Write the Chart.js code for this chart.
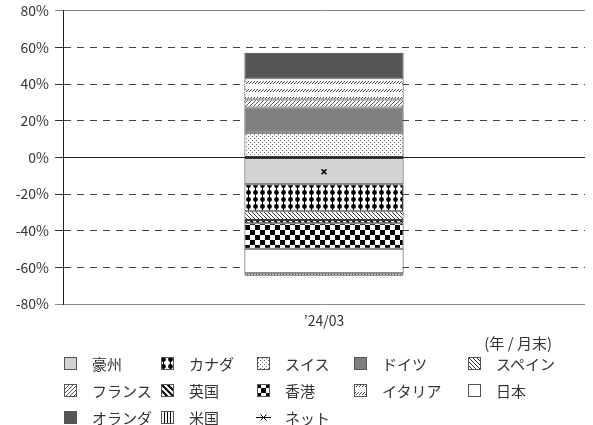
<!DOCTYPE html>
<html>
<head>
<meta charset="utf-8">
<script src="https://cdn.jsdelivr.net/npm/chart.js@4/dist/chart.umd.min.js"></script>
<style>
  body { margin: 0; background: #fff; }
  #wrap { position: relative; width: 593px; height: 425px; font-family: "Noto Sans CJK JP", "Noto Sans", sans-serif; color: #333; }
  #chart1 { position: absolute; left: 0; top: 0; }
  .item { position: absolute; display: flex; align-items: center; font-size: 15px; white-space: nowrap; height: 20px; }
  .item canvas { margin-right: 14px; }
  #unit { position: absolute; right: 41px; top: 332px; font-size: 15px; }
</style>
</head>
<body>
<div id="wrap">
  <canvas id="chart1" width="593" height="425"></canvas>
  <div id="unit">(年 / 月末)</div>
  <div id="legend"></div>
</div>
<script>
// 国別の寄与（%）、プラスとマイナスは別々に積み上がる
const dates = ['\u201924/03'];
const countries = ['豪州', 'カナダ', 'スイス', 'ドイツ', 'スペイン', 'フランス', '英国', '香港', 'イタリア', '日本', 'オランダ', '米国'];
const values = [-14.6, -14.8, 13.5, 13.7, -4.7, 4.4, -1.8, -14.0, 11.7, -13.3, 13.8, -1.4];
const netLabel = 'ネット';
const netValues = [-7.8];

// 塗りパターン用の小さなタイル
function tile(w, h, draw) {
  const c = document.createElement('canvas');
  c.width = w; c.height = h;
  const g = c.getContext('2d');
  g.fillStyle = '#fff';
  g.fillRect(0, 0, w, h);
  draw(g);
  return c;
}

const tiles = {
  solidLight: '#d3d3d3',
  canada: tile(7, 7, g => {
    g.fillStyle = '#000';
    g.beginPath();
    g.arc(3.5, 3.5, 2.4, 0, Math.PI * 2);
    g.fill();
    g.fillRect(3, 0, 1, 7);
  }),
  dots: tile(4, 4, g => {
    g.fillStyle = '#666';
    g.fillRect(0, 0, 1, 1);
    g.fillRect(2, 2, 1, 1);
  }),
  solidMid: '#808080',
  back: tile(4, 4, g => {
    g.strokeStyle = '#333'; g.lineWidth = 1;
    g.beginPath();
    g.moveTo(-1, -1); g.lineTo(5, 5);
    g.moveTo(-1, 3); g.lineTo(1, 5);
    g.moveTo(3, -1); g.lineTo(5, 1);
    g.stroke();
  }),
  fwd: tile(4, 4, g => {
    g.strokeStyle = '#555'; g.lineWidth = 1;
    g.beginPath();
    g.moveTo(-1, 5); g.lineTo(5, -1);
    g.moveTo(-1, 1); g.lineTo(1, -1);
    g.moveTo(3, 5); g.lineTo(5, 3);
    g.stroke();
  }),
  thickBack: tile(6, 6, g => {
    g.strokeStyle = '#000'; g.lineWidth = 2;
    g.beginPath();
    g.moveTo(-1, -1); g.lineTo(7, 7);
    g.moveTo(-1, 5); g.lineTo(1, 7);
    g.moveTo(5, -1); g.lineTo(7, 1);
    g.stroke();
  }),
  checker: tile(10, 10, g => {
    g.fillStyle = '#000';
    g.fillRect(0, 0, 5, 5);
    g.fillRect(5, 5, 5, 5);
  }),
  dashes: tile(3, 8, g => {
    g.strokeStyle = '#444'; g.lineWidth = 1;
    g.beginPath();
    g.moveTo(0, 4); g.lineTo(3, 1);
    g.stroke();
  }),
  white: '#ffffff',
  solidDark: '#555555',
  vert: tile(3, 3, g => {
    g.fillStyle = '#000';
    g.fillRect(1, 0, 1, 3);
  })
};
const fillKeys = ['solidLight', 'canada', 'dots', 'solidMid', 'back', 'fwd', 'thickBack', 'checker', 'dashes', 'white', 'solidDark', 'vert'];

const ctx1 = document.querySelector('#chart1').getContext('2d');
function fillFor(key, g) {
  const t = tiles[key];
  return typeof t === 'string' ? t : g.createPattern(t, 'repeat');
}

const datasets = countries.map((name, i) => ({
  type: 'bar',
  label: name,
  data: [values[i]],
  backgroundColor: fillFor(fillKeys[i], ctx1),
  borderColor: '#3a3a3a',
  borderWidth: 1,
  borderSkipped: false,
  barPercentage: 0.305,
  categoryPercentage: 1,
  stack: 'countries'
}));
// ネットは棒の上に描く
datasets.push({
  type: 'line',
  label: netLabel,
  data: netValues,
  stack: 'net',
  order: -1,
  showLine: false,
  pointStyle: 'crossRot',
  pointRadius: 3.5,
  pointBorderWidth: 1.5,
  borderColor: '#000',
  backgroundColor: '#000'
});

const font = { family: '"Noto Sans CJK JP", "Noto Sans", sans-serif', size: 14 };

const chart1 = new Chart(ctx1, {
  data: { labels: dates, datasets: datasets },
  options: {
    responsive: false,
    animation: false,
    layout: { padding: { top: 8, right: 8, left: 0, bottom: 0 } },
    plugins: { legend: { display: false }, tooltip: { enabled: false } },
    scales: {
      x: {
        stacked: true,
        grid: { display: false },
        border: { display: false },
        ticks: { font: font, color: '#333', padding: 0 },
        afterFit: s => { s.height = 121; }
      },
      y: {
        stacked: true,
        min: -80,
        max: 80,
        ticks: {
          stepSize: 20,
          font: Object.assign({}, font, { lineHeight: 0.7 }),
          color: '#333',
          padding: 6,
          callback: v => v + '%'
        },
        grid: {
          color: c => c.tick.value === 0 ? '#222' : (Math.abs(c.tick.value) === 80 ? '#888' : '#444'),
          tickColor: c => Math.abs(c.tick.value) === 80 ? '#888' : '#333',
          tickLength: 8,
          lineWidth: 1
        },
        border: {
          display: true,
          color: '#222',
          dash: c => (c.tick && c.tick.value % 80 !== 0) ? [7, 6] : []
        },
        afterFit: s => { s.width = 63; }
      }
    }
  }
});

// 凡例（5列）
const colX = [63, 160, 256, 353, 467];
const rowY = [353, 380, 407];
const legend = document.getElementById('legend');
const names = countries.concat([netLabel]);
names.forEach((name, i) => {
  const el = document.createElement('div');
  el.className = 'item';
  el.style.left = colX[i % 5] + 'px';
  el.style.top = rowY[Math.floor(i / 5)] + 'px';
  const sw = document.createElement('canvas');
  sw.width = 15; sw.height = 15;
  const g = sw.getContext('2d');
  if (i < countries.length) {
    g.fillStyle = fillFor(fillKeys[i], g);
    g.fillRect(1, 1, 13, 13);
    g.strokeStyle = '#555';
    g.lineWidth = 1;
    g.strokeRect(1.5, 1.5, 12, 12);
  } else {
    g.strokeStyle = '#000';
    g.lineWidth = 1;
    g.beginPath();
    g.moveTo(0, 7.5); g.lineTo(15, 7.5);
    g.moveTo(4.5, 4.5); g.lineTo(10.5, 10.5);
    g.moveTo(10.5, 4.5); g.lineTo(4.5, 10.5);
    g.stroke();
  }
  el.appendChild(sw);
  el.appendChild(document.createTextNode(name));
  legend.appendChild(el);
});
</script>
</body>
</html>
